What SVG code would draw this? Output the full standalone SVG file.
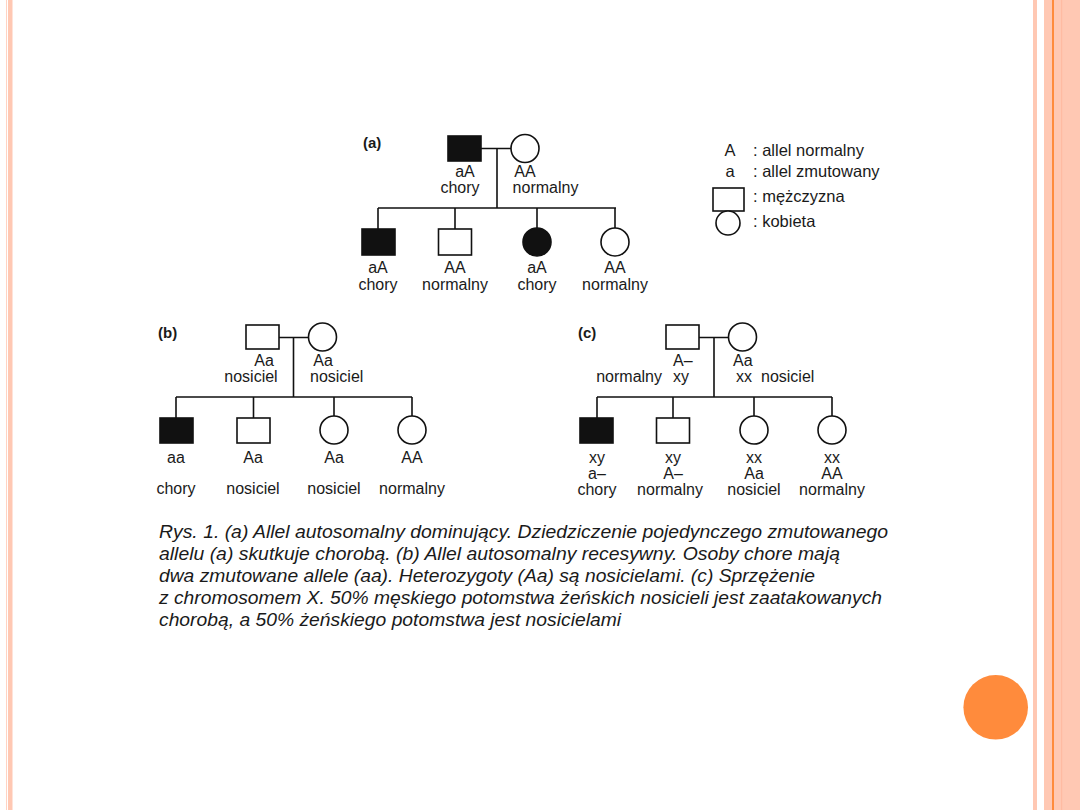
<svg xmlns="http://www.w3.org/2000/svg" width="1080" height="810" viewBox="0 0 1080 810">
<style>
  .ln{stroke:#111;stroke-width:1.6;fill:none}
  .o{stroke:#111;stroke-width:1.6;fill:#fff}
  .f{stroke:#111;stroke-width:1.6;fill:#111}
  text{font-family:"Liberation Sans",Arial,sans-serif;font-size:16px;fill:#1a1a1a}
  .c{text-anchor:middle}
  .e{text-anchor:end}
  .b{font-weight:bold;font-size:15px}
  .cap{font-style:italic;font-size:17.5px}
  .lg{font-size:16.5px}
</style>
<rect width="1080" height="810" fill="#fff"/>
<!-- slide borders -->
<g id="border">
  <rect x="6" y="0" width="1" height="810" fill="#FFD3C3"/>
  <rect x="8" y="0" width="4.5" height="810" fill="#FFC8B3"/>
  <rect x="1033" y="0" width="4" height="810" fill="#FFC8B3"/>
  <rect x="1044" y="0" width="36" height="810" fill="#FFC8B3"/>
  <rect x="1052" y="0" width="2" height="810" fill="#FF8B3C"/>
  <rect x="1061" y="0" width="1.2" height="810" fill="#FFBBA2"/>
  <circle cx="995.7" cy="707.3" r="32.3" fill="#FF8B3C"/>
</g>

<!-- connectors -->
<g id="connectors">
  <!-- (a) -->
  <path class="ln" d="M481 148.5H511 M497 148.5V208 M378 208H616 M378 208V229 M455 208V229 M537 208V228 M615 208V228"/>
  <!-- (b) -->
  <path class="ln" d="M279 337.5H308.5 M293.5 337.5V397 M176 397H412 M176 397V418 M253.5 397V418 M334 397V416 M412 397V416"/>
  <!-- (c) -->
  <path class="ln" d="M699 337.5H728.5 M714 337.5V397 M597 397H832 M597 397V418 M673 397V418 M754 397V416 M832 397V416"/>
</g>

<!-- (a) -->
<g id="a-label"><text class="b" x="363" y="148">(a)</text></g>
<g id="a-father">
  <rect class="f" x="448" y="136" width="33" height="25"/>
  <text class="c" x="465" y="177">aA</text>
  <text class="c" x="460" y="193">chory</text>
</g>
<g id="a-mother">
  <circle class="o" cx="525" cy="148.5" r="14"/>
  <text class="c" x="525" y="177">AA</text>
  <text class="c" x="545.5" y="193">normalny</text>
</g>
<g id="a-child1">
  <rect class="f" x="362" y="229" width="33" height="26"/>
  <text class="c" x="378" y="273">aA</text>
  <text class="c" x="378" y="290">chory</text>
</g>
<g id="a-child2">
  <rect class="o" x="438.5" y="229" width="33" height="26"/>
  <text class="c" x="455" y="273">AA</text>
  <text class="c" x="455" y="290">normalny</text>
</g>
<g id="a-child3">
  <circle class="f" cx="537" cy="242" r="14"/>
  <text class="c" x="537" y="273">aA</text>
  <text class="c" x="537" y="290">chory</text>
</g>
<g id="a-child4">
  <circle class="o" cx="615" cy="242" r="14"/>
  <text class="c" x="615" y="273">AA</text>
  <text class="c" x="615" y="290">normalny</text>
</g>

<!-- legend -->
<g id="legend">
  <text class="c lg" x="730" y="156">A</text>
  <text class="lg" x="753" y="156">: allel normalny</text>
  <text class="c lg" x="730" y="177">a</text>
  <text class="lg" x="753" y="177">: allel zmutowany</text>
  <rect class="o" x="713" y="188" width="31" height="23"/>
  <text class="lg" x="753" y="202">: mężczyzna</text>
  <circle class="o" cx="728" cy="223" r="12"/>
  <text class="lg" x="753" y="227">: kobieta</text>
</g>

<!-- (b) -->
<g id="b-label"><text class="b" x="158" y="338">(b)</text></g>
<g id="b-father">
  <rect class="o" x="246" y="325" width="33" height="24"/>
  <text class="c" x="264" y="366">Aa</text>
  <text class="c" x="251" y="382">nosiciel</text>
</g>
<g id="b-mother">
  <circle class="o" cx="322.5" cy="337" r="14"/>
  <text class="c" x="323" y="366">Aa</text>
  <text x="310" y="382">nosiciel</text>
</g>
<g id="b-child1">
  <rect class="f" x="160" y="418" width="33" height="25"/>
  <text class="c" x="176" y="463">aa</text>
  <text class="c" x="176" y="494">chory</text>
</g>
<g id="b-child2">
  <rect class="o" x="237" y="418" width="33" height="25"/>
  <text class="c" x="253" y="463">Aa</text>
  <text class="c" x="253" y="494">nosiciel</text>
</g>
<g id="b-child3">
  <circle class="o" cx="334" cy="430" r="14"/>
  <text class="c" x="334" y="463">Aa</text>
  <text class="c" x="334" y="494">nosiciel</text>
</g>
<g id="b-child4">
  <circle class="o" cx="412" cy="430" r="14"/>
  <text class="c" x="412" y="463">AA</text>
  <text class="c" x="412" y="494">normalny</text>
</g>

<!-- (c) -->
<g id="c-label"><text class="b" x="578" y="338">(c)</text></g>
<g id="c-father">
  <rect class="o" x="666" y="325" width="33" height="24"/>
  <text x="673" y="366">A–</text>
  <text class="e" x="662" y="382">normalny</text>
  <text x="673" y="382">xy</text>
</g>
<g id="c-mother">
  <circle class="o" cx="742.5" cy="337" r="14"/>
  <text x="733" y="366">Aa</text>
  <text x="736" y="382">xx</text>
  <text x="761" y="382">nosiciel</text>
</g>
<g id="c-child1">
  <rect class="f" x="580" y="418" width="33" height="25"/>
  <text class="c" x="597" y="463">xy</text>
  <text class="c" x="597" y="479">a–</text>
  <text class="c" x="597" y="495">chory</text>
</g>
<g id="c-child2">
  <rect class="o" x="656.5" y="418" width="33" height="25"/>
  <text class="c" x="673" y="463">xy</text>
  <text class="c" x="673" y="479">A–</text>
  <text class="c" x="670" y="495">normalny</text>
</g>
<g id="c-child3">
  <circle class="o" cx="754" cy="430" r="14"/>
  <text class="c" x="754" y="463">xx</text>
  <text class="c" x="754" y="479">Aa</text>
  <text class="c" x="754" y="495">nosiciel</text>
</g>
<g id="c-child4">
  <circle class="o" cx="832" cy="430" r="14"/>
  <text class="c" x="832" y="463">xx</text>
  <text class="c" x="832" y="479">AA</text>
  <text class="c" x="832" y="495">normalny</text>
</g>

<!-- caption -->
<g id="caption">
  <text class="cap" x="159" y="538" textLength="729" lengthAdjust="spacingAndGlyphs">Rys. 1. (a) Allel autosomalny dominujący. Dziedziczenie pojedynczego zmutowanego</text>
  <text class="cap" x="159" y="560" textLength="681" lengthAdjust="spacingAndGlyphs">allelu (a) skutkuje chorobą. (b) Allel autosomalny recesywny. Osoby chore mają</text>
  <text class="cap" x="159" y="582" textLength="656" lengthAdjust="spacingAndGlyphs">dwa zmutowane allele (aa). Heterozygoty (Aa) są nosicielami. (c) Sprzężenie</text>
  <text class="cap" x="159" y="604" textLength="723" lengthAdjust="spacingAndGlyphs">z chromosomem X. 50% męskiego potomstwa żeńskich nosicieli jest zaatakowanych</text>
  <text class="cap" x="159" y="626" textLength="462" lengthAdjust="spacingAndGlyphs">chorobą, a 50% żeńskiego potomstwa jest nosicielami</text>
</g>
</svg>
